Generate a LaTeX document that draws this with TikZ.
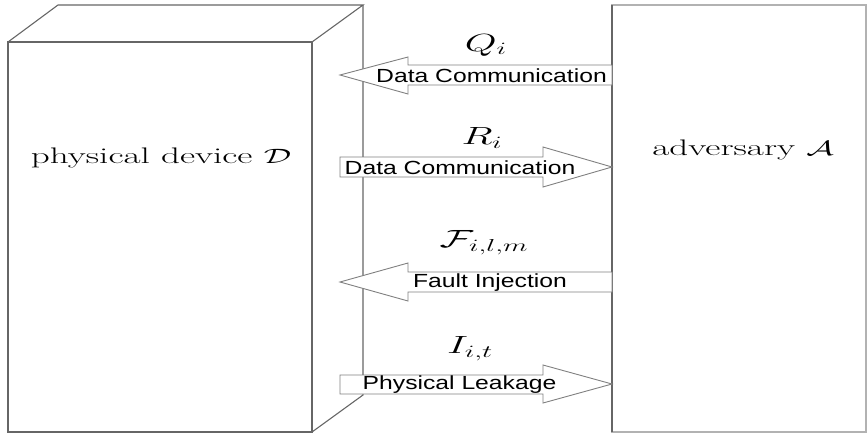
\documentclass[tikz,border=0pt]{standalone}
\usepackage{fontspec}
\usepackage{graphicx}
\newfontfamily\labelsans{Liberation Sans}
% serif labels are set wide
\newcommand{\widetext}[1]{\scalebox{1.65}[1]{#1}}
\newcommand{\widesans}[1]{\scalebox{1.3}[1]{#1}}
\begin{document}
\begin{tikzpicture}[x=1pt,y=-1pt,
  edge/.style={draw=black!60,line width=1.1pt,line join=miter},
  blockarrow/.style={draw=black!50,line width=0.9pt,fill=white,line join=miter},
  bigtext/.style={inner sep=0pt,font=\fontsize{22.5}{26}\selectfont},
  arrowtext/.style={inner sep=0pt,font=\labelsans\fontsize{19}{22}\selectfont},
  mathlabel/.style={inner sep=0pt,font=\fontsize{23}{27}\selectfont}]
\useasboundingbox (0,0) rectangle (867,434);

% --- physical device drawn as a box in perspective ---
\coordinate (fTL) at (8,42);
\coordinate (fTR) at (312,42);
\coordinate (fBR) at (312,432);
\coordinate (fBL) at (8,432);
\coordinate (bTL) at (58,5);
\coordinate (bTR) at (363,5);
\coordinate (bBR) at (363,395);
\draw[edge] (fTL) rectangle (fBR);
\draw[edge] (fTL) -- (bTL) -- (bTR) -- (fTR);
\draw[edge] (bTR) -- (bBR) -- (fBR);

% --- adversary ---
\coordinate (aTL) at (612,5);
\coordinate (aBR) at (866,432);
\draw[draw=black!30,line width=1.1pt] (aTL) rectangle (aBR);
\draw[edge] (612,5) -- (612,432);

\node[bigtext,anchor=base] (dev) at (161,163) {\widetext{physical device $\mathcal{D}$}};
\node[bigtext,anchor=base] (adv) at (743,155) {\widetext{adversary $\mathcal{A}$}};

% --- block arrows between device and adversary ---
% Q_i : adversary -> device
\draw[blockarrow] (612,65) -- (408,65) -- (408,57) -- (340,75) -- (408,94) -- (408,85) -- (612,85) -- cycle;
% R_i : device -> adversary
\draw[blockarrow] (340,157) -- (543,157) -- (543,147) -- (612,167) -- (543,187) -- (543,177) -- (340,177) -- cycle;
% F_{i,l,m} : adversary -> device
\draw[blockarrow] (612,272) -- (408,272) -- (408,263) -- (340,282) -- (408,301) -- (408,292) -- (612,292) -- cycle;
% I_{i,t} : device -> adversary
\draw[blockarrow] (340,375) -- (543,375) -- (543,365) -- (612,384) -- (543,403) -- (543,394) -- (340,394) -- cycle;

\node[arrowtext] (t1) at (491.5,75.5) {\widesans{Data Communication}};
\node[arrowtext] (t2) at (460,167.5) {\widesans{Data Communication}};
\node[arrowtext] (t3) at (490,282.5) {\widesans{Fault Injection}};
\node[arrowtext] (t4) at (459.5,384.5) {\widesans{Physical Leakage}};

\node[mathlabel] (q) at (486,45) {\widetext{$Q_i$}};
\node[mathlabel] (r) at (482,138) {\widetext{$R_i$}};
\node[mathlabel] (f) at (484,243) {\widetext{$\mathcal{F}_{i,l,m}$}};
\node[mathlabel] (i) at (470,349) {\widetext{$I_{i,t}$}};
\end{tikzpicture}
\end{document}
